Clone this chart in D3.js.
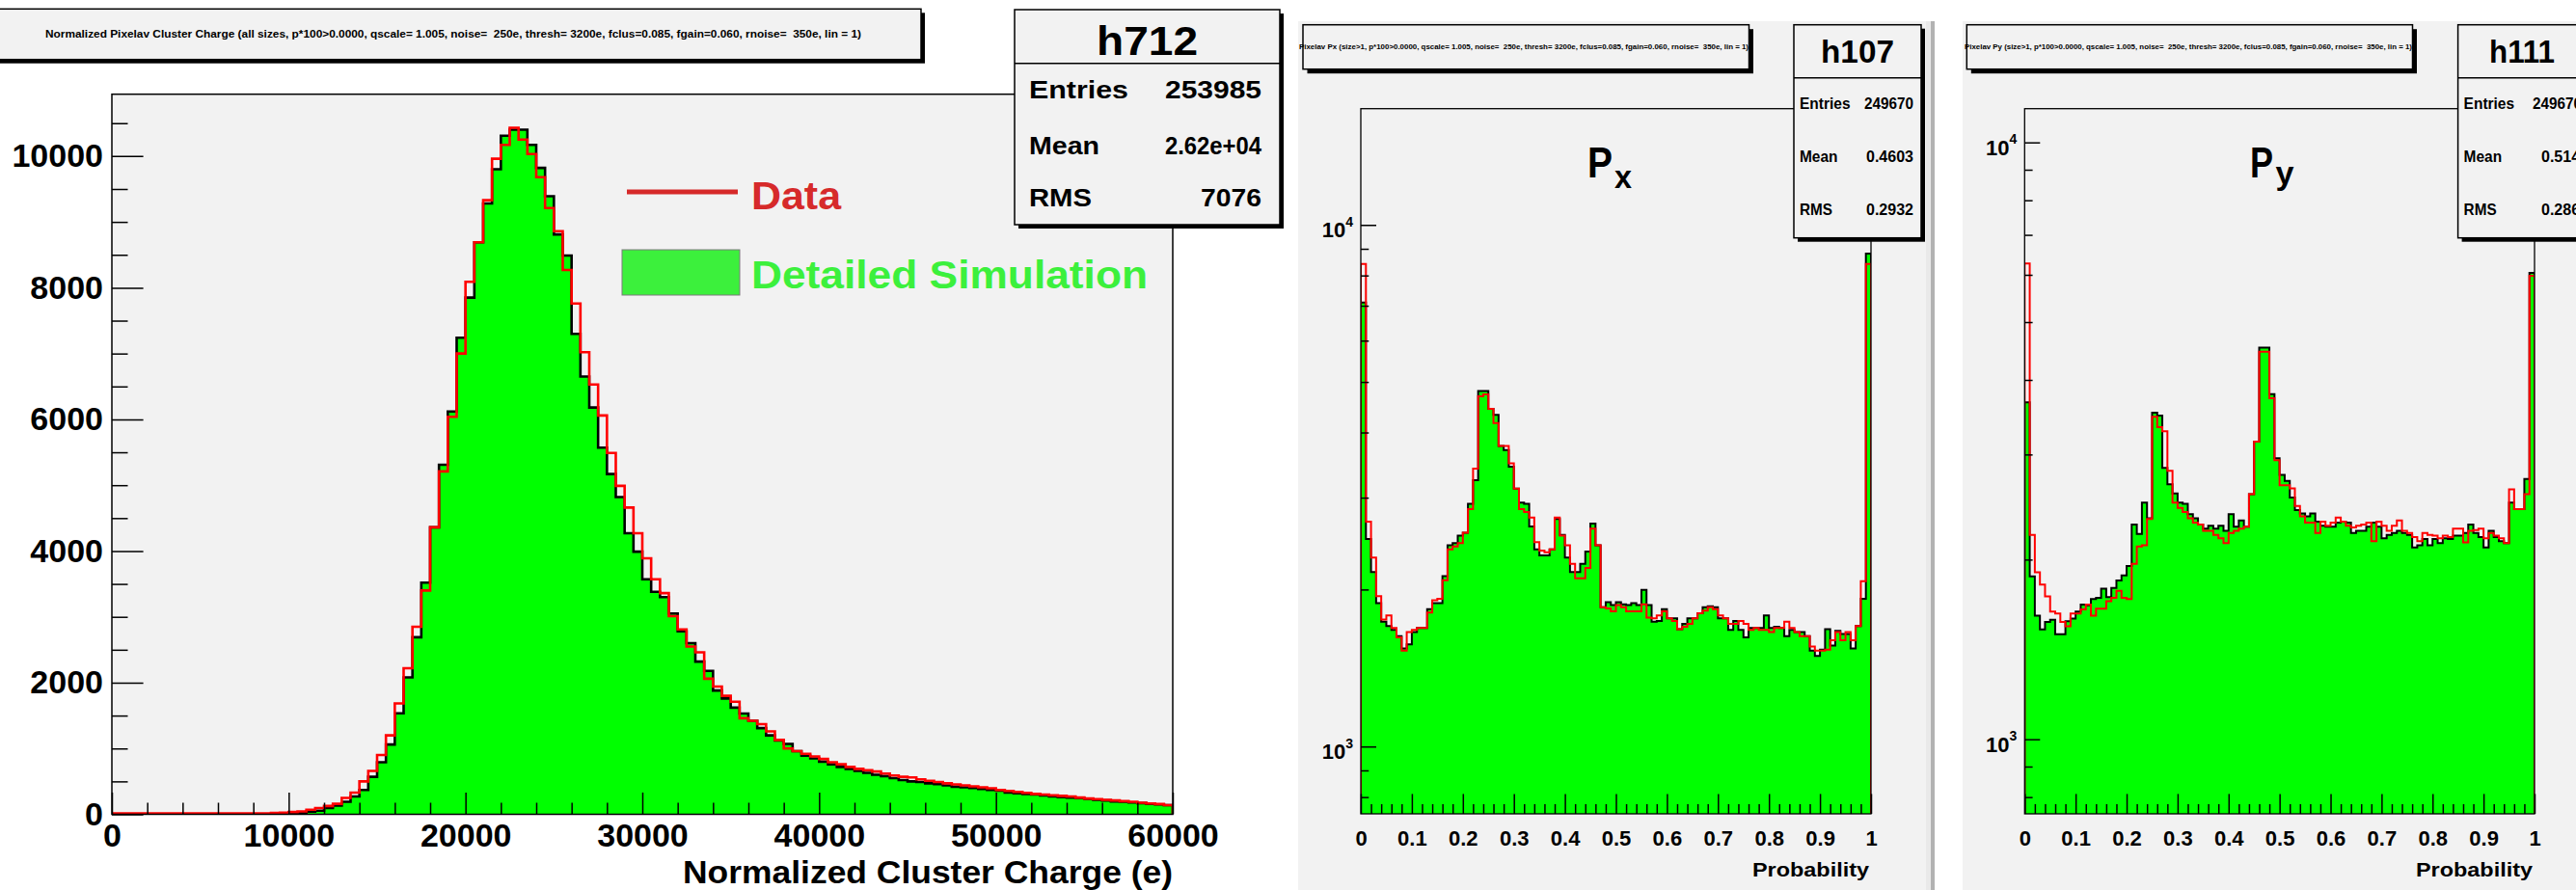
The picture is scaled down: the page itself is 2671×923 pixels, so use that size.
<!DOCTYPE html>
<html><head><meta charset="utf-8">
<script src="https://cdn.jsdelivr.net/npm/d3@7"></script>
<style>
body{margin:0;background:#fff;}
svg text{font-family:"Liberation Sans",Arial,Helvetica,sans-serif;font-weight:bold;white-space:pre;}
</style></head>
<body><svg id="c" width="2671" height="923"></svg>
<script>
// ---------------- DATA ----------------
// Left: normalized cluster charge, 120 bins of 500 e from 0 to 60000
const chargeBinStart = 0;
const chargeBinWidth = 500;
const chargeData = [15,15,15,15,15,15,15,15,15,15, 15,15,15,15,15,15,15,15,20,25,
 35,45,70,95,126,160,250,330,500,660, 900,1200,1685,2220,2850,3400,4360,5210,6040,7000,
 8090,8690,9330,9960,10170,10430,10250,10030,9680,9210, 8860,8270,7760,7020,6530,6060,5490,4990,4660,4270,
 3890,3570,3360,3010,2810,2550,2460,2060,1940,1800, 1710,1460,1420,1370,1260,1130,1000,960,920,880,
 840,790,760,720,690,670,650,620,590,570, 560,530,510,490,470,455,440,425,410,395,
 370,355,340,325,310,300,290,280,270,255, 240,230,220,210,200,190,175,165,155,140];
const chargeSim = [2,2,2,2,2,2,2,2,2,2, 2,2,2,2,2,2,3,4,5,10,
 15,25,40,55,95,134,190,270,370,570, 790,1060,1535,2080,2690,3520,4360,5310,6120,7240,
 7850,8690,9280,9800,10310,10400,10400,10170,9820,9390, 8810,8490,7300,6650,6180,5570,5170,4820,4270,3990,
 3570,3380,3300,3050,2780,2600,2320,2180,1880,1760, 1620,1530,1420,1310,1200,1120,1070,960,890,850,
 800,760,720,690,660,630,600,580,550,520, 500,490,470,460,440,420,410,400,385,370,
 360,330,320,310,300,285,270,260,255,245, 235,220,210,195,190,180,170,160,150,140];
const chargeXTicks = [0,10000,20000,30000,40000,50000,60000];
const chargeYTicks = [0,2000,4000,6000,8000,10000];
const chargeXDomain = [0,60000];
const chargeYDomain = [0,10940];

// Middle / right: probability, 100 bins of 0.01 from 0 to 1
const probBinStart = 0;
const probBinWidth = 0.01;
const pxSim = [7100,2500,2160,1884,1735,1703,1673,1628,1541,1570,
 1658,1688,1688,1833,1884,1884,2121,2432,2455,2536,
 2569,2919,3239,4804,4804,4442,4322,3770,3701,3441,
 3123,2935,2919,2641,2388,2324,2324,2388,2729,2546,
 2303,2160,2160,2240,2366,2675,2432,1850,1891,1867,
 1891,1874,1867,1884,1867,1997,1867,1735,1741,1833,
 1761,1761,1679,1719,1761,1761,1800,1850,1857,1850,
 1761,1761,1673,1741,1673,1619,1688,1688,1688,1783,
 1688,1697,1688,1628,1673,1658,1658,1628,1527,1491,
 1533,1679,1561,1667,1643,1643,1541,1703,1919,8808];
const pxData = [8413,2699,2303,1943,1751,1783,1688,1619,1527,1658,
 1673,1688,1688,1806,1908,1919,2083,2388,2418,2455,
 2569,2851,3410,4691,4734,4442,4168,3770,3770,3491,
 3123,2851,2815,2748,2464,2375,2358,2388,2748,2536,
 2432,2240,2102,2102,2200,2617,2432,1850,1840,1816,
 1867,1850,1816,1816,1816,1874,1767,1761,1783,1816,
 1761,1741,1679,1697,1719,1761,1800,1823,1850,1833,
 1783,1761,1719,1719,1741,1719,1673,1688,1673,1673,
 1658,1688,1688,1735,1688,1658,1628,1628,1555,1527,
 1527,1533,1599,1658,1599,1658,1599,1703,2075,8413];
const pySim = [3669,1875,1611,1528,1572,1585,1499,1499,1577,1593,
 1637,1681,1676,1717,1725,1787,1730,1793,1845,1881,
 1951,2289,2207,2492,2345,3526,3487,2850,2673,2581,
 2492,2480,2383,2345,2289,2253,2278,2253,2278,2235,
 2383,2271,2326,2271,2573,3152,4532,4532,3788,2957,
 2774,2708,2540,2421,2390,2363,2390,2315,2278,2271,
 2271,2307,2315,2307,2217,2235,2235,2271,2307,2271,
 2172,2200,2217,2235,2217,2200,2096,2113,2165,2113,
 2165,2131,2172,2165,2193,2193,2217,2289,2217,2182,
 2096,2235,2182,2148,2131,2492,2429,2429,2730,6043];
const pyData = [6268,2200,1905,1816,1736,1637,1624,1572,1547,1624,
 1624,1650,1681,1611,1655,1655,1703,1725,1773,1725,
 1717,1967,2103,2113,2338,3470,3334,3281,2818,2492,
 2441,2402,2345,2307,2289,2235,2235,2200,2172,2131,
 2217,2235,2253,2271,2573,3152,4460,4460,3728,2934,
 2665,2665,2631,2460,2363,2307,2307,2217,2315,2278,
 2307,2352,2315,2278,2264,2278,2289,2307,2148,2315,
 2278,2235,2278,2326,2235,2217,2182,2148,2217,2200,
 2193,2172,2193,2182,2253,2253,2138,2235,2242,2253,
 2172,2217,2193,2172,2131,2623,2429,2429,2573,5976];
const probTicks = [0,0.1,0.2,0.3,0.4,0.5,0.6,0.7,0.8,0.9,1];
const logMajorTicks = [1000,10000];
const logMinorTicks = [800,900,2000,3000,4000,5000,6000,7000,8000,9000];
const pxYDomain = [743,16706];
const pyYDomain = [750,11390];

// Texts
const leftTitle = "Normalized Pixelav Cluster Charge (all sizes, p*100>0.0000, qscale= 1.005, noise=  250e, thresh= 3200e, fclus=0.085, fgain=0.060, rnoise=  350e, lin = 1)";
const pxTitle = "Pixelav Px (size>1, p*100>0.0000, qscale= 1.005, noise=  250e, thresh= 3200e, fclus=0.085, fgain=0.060, rnoise=  350e, lin = 1)";
const pyTitle = "Pixelav Py (size>1, p*100>0.0000, qscale= 1.005, noise=  250e, thresh= 3200e, fclus=0.085, fgain=0.060, rnoise=  350e, lin = 1)";
const statsLeft = {name:"h712", rows:[["Entries","253985"],["Mean","2.62e+04"],["RMS","7076"]]};
const statsPx = {name:"h107", rows:[["Entries","249670"],["Mean","0.4603"],["RMS","0.2932"]]};
const statsPy = {name:"h111", rows:[["Entries","249670"],["Mean","0.5144"],["RMS","0.2865"]]};
const legendLabels = ["Data","Detailed Simulation"];
const xTitleLeft = "Normalized Cluster Charge (e)";
const xTitleProb = "Probability";

// ---------------- DRAW ----------------
const svg = d3.select("#c");
const GREEN = "#00ff00", RED = "#ff0000", BG = "#f2f2f2";
const LEG_RED = "#d62a2a", LEG_GREEN = "#3cf03c";

function stepPath(vals, start, bw, xs, ys, base, floor) {
  const pts = [[xs(start), base]];
  vals.forEach((v, i) => {
    const yy = ys(Math.max(v, floor));
    pts.push([xs(start + i * bw), yy], [xs(start + (i + 1) * bw), yy]);
  });
  pts.push([xs(start + vals.length * bw), base]);
  return d3.line()(pts);
}
function box(g, x, y, w, h, sh) {
  g.append("rect").attr("x", x + sh).attr("y", y + sh).attr("width", w).attr("height", h).attr("fill", "#000");
  g.append("rect").attr("x", x).attr("y", y).attr("width", w).attr("height", h).attr("fill", BG).attr("stroke", "#000").attr("stroke-width", 1.5);
}
function txt(g, s, x, y, size, anchor, len, fill) {
  const t = g.append("text").attr("x", x).attr("y", y).attr("font-size", size)
    .attr("text-anchor", anchor || "start").attr("fill", fill || "#000").text(s);
  if (len) t.attr("textLength", len).attr("lengthAdjust", "spacingAndGlyphs");
  return t;
}
function statsBox(g, st, b) {
  box(g, b.x, b.y, b.w, b.h, b.sh);
  g.append("line").attr("x1", b.x).attr("x2", b.x + b.w).attr("y1", b.div).attr("y2", b.div).attr("stroke", "#000").attr("stroke-width", 1.5);
  txt(g, st.name, b.nameX, b.nameY, b.nameSize, "middle", b.nameLen);
  st.rows.forEach((r, i) => {
    txt(g, r[0], b.labX, b.rowY[i], b.rowSize, "start", b.labLen[i]);
    txt(g, r[1], b.valX[i], b.rowY[i], b.rowSize, "end", b.valLen[i]);
  });
}
function styleAxis(g, size) {
  g.select(".domain").remove();
  g.selectAll(".tick line").attr("stroke", "#000").attr("stroke-width", 1.5);
  g.selectAll(".tick text").attr("font-size", size).attr("font-family", null).attr("fill", "#000");
  g.attr("font-family", null).attr("font-size", null);
}

// ===== LEFT PANEL =====
{
  const F = {x0: 116, x1: 1216, y0: 97.7, y1: 844.5};
  const g = svg.append("g");
  g.append("rect").attr("x", F.x0).attr("y", F.y0).attr("width", F.x1 - F.x0).attr("height", F.y1 - F.y0).attr("fill", BG);
  const x = d3.scaleLinear().domain(chargeXDomain).range([F.x0, F.x1]);
  const y = d3.scaleLinear().domain(chargeYDomain).range([F.y1, F.y0]);
  g.append("clipPath").attr("id", "clipL").append("rect").attr("x", F.x0).attr("y", F.y0).attr("width", F.x1 - F.x0).attr("height", F.y1 - F.y0);
  const h = g.append("g").attr("clip-path", "url(#clipL)");
  h.append("path").attr("d", stepPath(chargeSim, chargeBinStart, chargeBinWidth, x, y, F.y1, 0)).attr("fill", GREEN).attr("stroke", "#000").attr("stroke-width", 2.6);
  h.append("path").attr("d", stepPath(chargeData, chargeBinStart, chargeBinWidth, x, y, F.y1, 0)).attr("fill", "none").attr("stroke", RED).attr("stroke-width", 2.6);
  // frame
  g.append("rect").attr("x", F.x0).attr("y", F.y0).attr("width", F.x1 - F.x0).attr("height", F.y1 - F.y0).attr("fill", "none").attr("stroke", "#000").attr("stroke-width", 1.5);
  // axes
  const minorX = d3.range(0, 60001, 2000).filter(v => v % 10000 !== 0);
  const gxm = g.append("g").attr("transform", `translate(0,${F.y1})`).call(d3.axisBottom(x).tickValues(minorX).tickSize(-12).tickFormat(""));
  styleAxis(gxm, 10);
  const gx = g.append("g").attr("transform", `translate(0,${F.y1})`).call(d3.axisBottom(x).tickValues(chargeXTicks).tickSize(-22.6).tickPadding(9.5).tickFormat(d3.format("d")));
  styleAxis(gx, 34);
  const minorY = d3.range(500, 10501, 500).filter(v => v % 2000 !== 0);
  const gym = g.append("g").attr("transform", `translate(${F.x0},0)`).call(d3.axisLeft(y).tickValues(minorY).tickSize(-16.5).tickFormat(""));
  styleAxis(gym, 10);
  const gy = g.append("g").attr("transform", `translate(${F.x0},0)`).call(d3.axisLeft(y).tickValues(chargeYTicks).tickSize(-32.6).tickPadding(9).tickFormat(d3.format("d")));
  styleAxis(gy, 34);
  txt(g, xTitleLeft, F.x1, 916, 34, "end", 508);
  // legend
  g.append("line").attr("x1", 650).attr("x2", 765).attr("y1", 199).attr("y2", 199).attr("stroke", LEG_RED).attr("stroke-width", 5);
  txt(g, legendLabels[0], 779, 217, 41, "start", 93, LEG_RED);
  g.append("rect").attr("x", 645).attr("y", 259).attr("width", 122).attr("height", 47).attr("fill", LEG_GREEN).attr("stroke", "#7a7a7a").attr("stroke-width", 1);
  txt(g, legendLabels[1], 779, 299, 41, "start", 411, LEG_GREEN);
  // title box
  box(g, -10, 9.3, 965, 52.4, 4);
  txt(g, leftTitle, 470, 39, 11, "middle", 846);
  // stats
  statsBox(g, statsLeft, {x: 1052, y: 10, w: 275, h: 223, sh: 4, div: 65.7,
    nameX: 1189.5, nameY: 56.7, nameSize: 42, nameLen: 105,
    labX: 1067, rowY: [101.7, 160, 214], rowSize: 26, labLen: [103, 73, 65],
    valX: [1308, 1308, 1308], valLen: [100, 100, 63]});
}

// ===== LOG PANELS =====
function logPanel(o) {
  const g = svg.append("g");
  const F = o.F;
  const x = d3.scaleLinear().domain([0, 1]).range([F.x0, F.x1]);
  const y = d3.scaleLog().domain(o.yDomain).range([F.y1, F.y0]);
  const cid = "clip" + o.id;
  g.append("clipPath").attr("id", cid).append("rect").attr("x", F.x0).attr("y", F.y0).attr("width", F.x1 - F.x0).attr("height", F.y1 - F.y0);
  const h = g.append("g").attr("clip-path", `url(#${cid})`);
  h.append("path").attr("d", stepPath(o.sim, probBinStart, probBinWidth, x, y, F.y1, o.yDomain[0])).attr("fill", GREEN).attr("stroke", "#000").attr("stroke-width", 2);
  h.append("path").attr("d", stepPath(o.data, probBinStart, probBinWidth, x, y, F.y1, o.yDomain[0])).attr("fill", "none").attr("stroke", RED).attr("stroke-width", 2);
  g.append("rect").attr("x", F.x0).attr("y", F.y0).attr("width", F.x1 - F.x0).attr("height", F.y1 - F.y0).attr("fill", "none").attr("stroke", "#000").attr("stroke-width", 1.3);
  const minorX = d3.range(1, 50).map(i => i * 0.02).filter((v, i) => (i + 1) % 5 !== 0);
  const gxm = g.append("g").attr("transform", `translate(0,${F.y1})`).call(d3.axisBottom(x).tickValues(minorX).tickSize(-10).tickFormat(""));
  styleAxis(gxm, 10);
  const gx = g.append("g").attr("transform", `translate(0,${F.y1})`).call(d3.axisBottom(x).tickValues(probTicks).tickSize(-20.6).tickPadding(17.5).tickFormat(d3.format("~g")));
  styleAxis(gx, 22);
  const gym = g.append("g").attr("transform", `translate(${F.x0},0)`).call(d3.axisLeft(y).tickValues(logMinorTicks).tickSize(-8.3).tickFormat(""));
  styleAxis(gym, 10);
  const gy = g.append("g").attr("transform", `translate(${F.x0},0)`).call(d3.axisLeft(y).tickValues(logMajorTicks).tickSize(-16).tickFormat(""));
  styleAxis(gy, 10);
  gy.selectAll(".tick").each(function(d) {
    const t = d3.select(this).append("text").attr("x", -8).attr("y", 12.4).attr("text-anchor", "end").attr("fill", "#000");
    t.append("tspan").attr("font-size", 22).text("10");
    t.append("tspan").attr("font-size", 14).attr("dy", -11.4).text(String(Math.round(Math.log10(d))));
  });
  txt(g, xTitleProb, F.x1 - 2, 909, 21, "end", 121);
  // big P label
  txt(g, "P", o.P.x, 184.3, 45, "start", o.P.w);
  txt(g, o.sub, o.P.sx, o.P.sy, 34, "start", o.P.sw);
  // title box
  g.append("clipPath").attr("id", cid + "t").append("rect").attr("x", o.bgX).attr("y", 0).attr("width", 700).attr("height", 923);
  const tg = g.append("g").attr("clip-path", `url(#${cid}t)`);
  box(tg, o.tb.x, 25.7, o.tb.w, 46, 4.5);
  txt(tg, o.title, o.tb.tx, 50.5, 8, "start", o.tb.tl);
  statsBox(g, o.stats, o.sb);
}

// panel backgrounds
svg.append("rect").attr("x", 1346).attr("y", 22).attr("width", 656).attr("height", 901).attr("fill", BG);
svg.append("rect").attr("x", 2035).attr("y", 22).attr("width", 636).attr("height", 901).attr("fill", BG);
svg.append("rect").attr("x", 1997).attr("y", 22).attr("width", 5).attr("height", 901).attr("fill", "#e9e9e9");
svg.append("rect").attr("x", 2002).attr("y", 22).attr("width", 4).attr("height", 901).attr("fill", "#b2b2b2");

logPanel({id: "px", F: {x0: 1411, x1: 1940, y0: 112.7, y1: 844}, yDomain: pxYDomain,
  sim: pxSim, data: pxData, sub: "x", title: pxTitle, bgX: 1346,
  P: {x: 1646, w: 26, sx: 1674, sy: 195, sw: 18},
  tb: {x: 1351, w: 462.5, tx: 1347, tl: 466},
  stats: statsPx,
  sb: {x: 1860, y: 25.7, w: 132, h: 221, sh: 4, div: 80.7,
    nameX: 1926, nameY: 65, nameSize: 34, nameLen: 76,
    labX: 1866, rowY: [112.7, 168.3, 223.3], rowSize: 16.5, labLen: [52.5, 39.5, 34],
    valX: [1984, 1984, 1984], valLen: [51, 49, 49]}});

logPanel({id: "py", F: {x0: 2099.3, x1: 2628, y0: 112.7, y1: 844}, yDomain: pyYDomain,
  sim: pySim, data: pyData, sub: "y", title: pyTitle, bgX: 2035,
  P: {x: 2333, w: 24, sx: 2359.5, sy: 191, sw: 19},
  tb: {x: 2039.3, w: 462.2, tx: 2037, tl: 464},
  stats: statsPy,
  sb: {x: 2548.6, y: 25.7, w: 132.4, h: 221, sh: 4, div: 80.7,
    nameX: 2615, nameY: 65, nameSize: 34, nameLen: 68,
    labX: 2554.6, rowY: [112.7, 168.3, 223.3], rowSize: 16.5, labLen: [52.5, 39.5, 34],
    valX: [2677, 2684, 2684], valLen: [51, 49, 49]}});
</script>
</body></html>
